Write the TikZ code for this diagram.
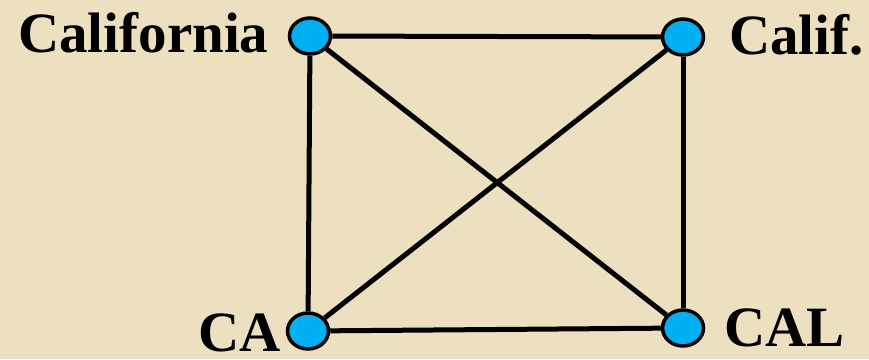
\documentclass[tikz,border=0pt]{standalone}
\usepackage{fontspec}
\setmainfont{Liberation Serif}
\usetikzlibrary{shapes.geometric}
\definecolor{parch}{RGB}{237,224,192}
\definecolor{nodeblue}{RGB}{0,176,240}
\tikzset{
  vert/.style={ellipse, draw=black, line width=3.5pt, fill=nodeblue, minimum width=41pt, minimum height=36pt, inner sep=0pt},
  lbl/.style={anchor=base west, inner sep=0pt, font=\fontsize{57}{60}\selectfont\bfseries},
  edge/.style={line width=5pt, black}
}
\begin{document}
\begin{tikzpicture}[x=1pt,y=1pt]
\fill[parch] (0,0) rectangle (869,359);
\useasboundingbox (0,0) rectangle (869,359);
\node[vert] (cal) at (310,323) {};
\node[vert] (calif) at (683,322) {};
\node[vert] (ca) at (308,28) {};
\node[vert] (cl) at (683,31) {};
\draw[edge] (cal) -- (calif);
\draw[edge] (cal) -- (ca);
\draw[edge] (cal) -- (cl);
\draw[edge] (calif) -- (cl);
\draw[edge] (calif) -- (ca);
\draw[edge] (ca) -- (cl);
\node[lbl] (t1) at (18,306) {California};
\node[lbl] (t2) at (729,304) {Calif.};
\node[lbl] (t3) at (198,8) {CA};
\node[lbl] (t4) at (724,13) {CAL};
\end{tikzpicture}
\end{document}
